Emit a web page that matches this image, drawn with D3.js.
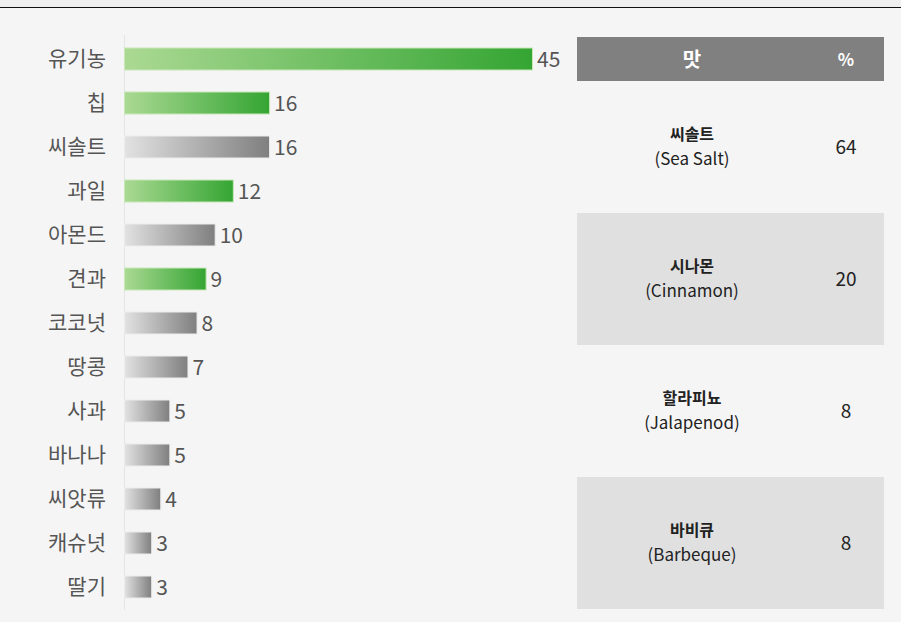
<!DOCTYPE html>
<html>
<head>
<meta charset="utf-8">
<script src="https://cdn.jsdelivr.net/npm/d3@7"></script>
<style>
body { margin: 0; background: #f5f5f5; }
text { font-family: "Noto Sans CJK KR", "Noto Sans", sans-serif; }
</style>
</head>
<body>
<svg id="viz"></svg>
<script>
var width = 901;
var height = 622;

// bar data
var categories = ["유기농", "칩", "씨솔트", "과일", "아몬드", "견과", "코코넛", "땅콩", "사과", "바나나", "씨앗류", "캐슈넛", "딸기"];
var values = [45, 16, 16, 12, 10, 9, 8, 7, 5, 5, 4, 3, 3];
var greenCats = ["유기농", "칩", "과일", "견과"];

// table data
var tableHeader = ["맛", "%"];
var flavorKo = ["씨솔트", "시나몬", "할라피뇨", "바비큐"];
var flavorEn = ["(Sea Salt)", "(Cinnamon)", "(Jalapenod)", "(Barbeque)"];
var flavorPct = [64, 20, 8, 8];

var svg = d3.select("#viz")
    .attr("width", width)
    .attr("height", height);

var defs = svg.append("defs");
var g1 = defs.append("linearGradient").attr("id", "gGreen");
g1.append("stop").attr("offset", "0%").attr("stop-color", "#abd993");
g1.append("stop").attr("offset", "100%").attr("stop-color", "#34a533");
var g2 = defs.append("linearGradient").attr("id", "gGray");
g2.append("stop").attr("offset", "0%").attr("stop-color", "#e2e2e2");
g2.append("stop").attr("offset", "100%").attr("stop-color", "#7f7f7f");

// top strip
svg.append("rect").attr("x", 0).attr("y", 0).attr("width", width).attr("height", 7).attr("fill", "#efefef");
svg.append("line").attr("x1", 0).attr("x2", width).attr("y1", 7.5).attr("y2", 7.5)
    .attr("stroke", "#111").attr("stroke-width", 1);

var x = d3.scaleLinear().domain([0, 45]).range([124, 532]);
var y = d3.scaleBand().domain(categories).range([37, 609]).paddingInner(0.5).paddingOuter(0.25);

// axis line
svg.append("line").attr("x1", 124.5).attr("x2", 124.5).attr("y1", 35).attr("y2", 610)
    .attr("stroke", "#e4e4e4");

var rows = svg.selectAll("g.row")
    .data(categories)
    .enter().append("g")
    .attr("class", "row");

rows.append("rect")
    .attr("x", x(0) + 0.5)
    .attr("y", function(d) { return y(d); })
    .attr("width", function(d, i) { return x(values[i]) - x(0); })
    .attr("height", y.bandwidth())
    .attr("fill", function(d) { return greenCats.indexOf(d) >= 0 ? "url(#gGreen)" : "url(#gGray)"; })
    .attr("stroke", function(d) { return greenCats.indexOf(d) >= 0 ? "#c8e8b8" : "#ececec"; })
    .attr("stroke-width", 1);

rows.append("text")
    .attr("x", 106)
    .attr("y", function(d) { return y(d) + y.bandwidth() / 2; })
    .attr("dy", "0.35em")
    .attr("text-anchor", "end")
    .attr("font-size", 21)
    .attr("fill", "#555")
    .text(function(d) { return d; });

rows.append("text")
    .attr("x", function(d, i) { return x(values[i]) + 5; })
    .attr("y", function(d) { return y(d) + y.bandwidth() / 2; })
    .attr("dy", "0.36em")
    .attr("font-size", 21)
    .attr("fill", "#555")
    .text(function(d, i) { return values[i]; });

// table
var tx = 577, tw = 307;
var colX = [692, 846];
svg.append("rect").attr("x", tx).attr("y", 37).attr("width", tw).attr("height", 44).attr("fill", "#808080");
svg.selectAll("text.head")
    .data(tableHeader)
    .enter().append("text")
    .attr("class", "head")
    .attr("x", function(d, i) { return colX[i]; })
    .attr("y", 60)
    .attr("dy", "0.35em")
    .attr("text-anchor", "middle")
    .attr("font-size", function(d, i) { return i == 0 ? 20 : 17; })
    .attr("font-weight", "bold")
    .attr("fill", "#fff")
    .text(function(d) { return d; });

var ty = d3.scaleBand().domain(d3.range(flavorKo.length)).range([81, 609]);

var trows = svg.selectAll("g.trow")
    .data(flavorKo)
    .enter().append("g")
    .attr("class", "trow");

trows.append("rect")
    .attr("x", tx)
    .attr("y", function(d, i) { return ty(i); })
    .attr("width", tw)
    .attr("height", ty.bandwidth())
    .attr("fill", function(d, i) { return i % 2 == 1 ? "#e0e0e0" : "none"; });

trows.append("text")
    .attr("x", colX[0])
    .attr("y", function(d, i) { return ty(i) + ty.bandwidth() / 2 - 13; })
    .attr("dy", "0.35em")
    .attr("text-anchor", "middle")
    .attr("font-size", 16)
    .attr("font-weight", "bold")
    .attr("fill", "#222")
    .text(function(d) { return d; });

trows.append("text")
    .attr("x", colX[0])
    .attr("y", function(d, i) { return ty(i) + ty.bandwidth() / 2 + 12; })
    .attr("dy", "0.35em")
    .attr("text-anchor", "middle")
    .attr("font-size", 17)
    .attr("fill", "#222")
    .text(function(d, i) { return flavorEn[i]; });

trows.append("text")
    .attr("x", colX[1])
    .attr("y", function(d, i) { return ty(i) + ty.bandwidth() / 2; })
    .attr("dy", "0.35em")
    .attr("text-anchor", "middle")
    .attr("font-size", 19)
    .attr("fill", "#222")
    .text(function(d, i) { return flavorPct[i]; });
</script>
</body>
</html>
